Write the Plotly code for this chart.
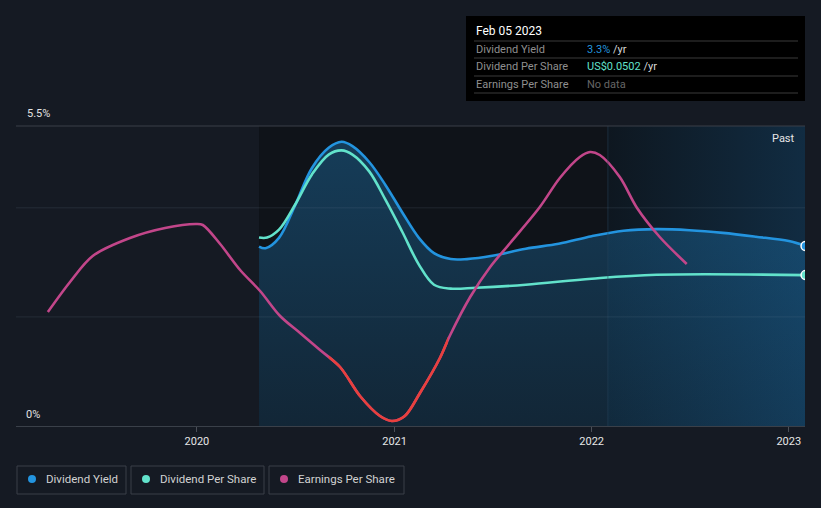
import plotly.graph_objects as go
import pandas as pd

# ---------------- data ----------------
yield_dates = ["2020-04-25", "2020-05-07", "2020-06-01", "2020-07-01", "2020-08-01", "2020-09-01",
               "2020-09-25", "2020-10-15", "2020-11-15", "2020-12-15", "2021-01-15", "2021-02-15",
               "2021-03-15", "2021-04-15", "2021-05-15", "2021-07-01", "2021-09-01", "2021-11-01",
               "2022-01-01", "2022-03-01", "2022-05-01", "2022-07-01", "2022-09-01", "2022-11-01",
               "2023-01-01", "2023-02-01"]
dividend_yield = [3.29, 3.26, 3.45, 4.05, 4.73, 5.10, 5.21, 5.13, 4.84, 4.42, 3.92, 3.45,
                  3.17, 3.06, 3.06, 3.12, 3.25, 3.34, 3.48, 3.58, 3.61, 3.59, 3.54, 3.47,
                  3.39, 3.30]

dps_dates = ["2020-04-25", "2020-05-10", "2020-06-01", "2020-07-01", "2020-08-01", "2020-09-01",
             "2020-09-25", "2020-10-15", "2020-11-15", "2020-12-15", "2021-01-15", "2021-02-15",
             "2021-03-15", "2021-04-15", "2021-06-01", "2021-09-01", "2022-01-01", "2022-05-01",
             "2023-02-01"]
dividend_per_share = [0.0627, 0.0627, 0.0653, 0.0737, 0.0837, 0.0903, 0.0917, 0.0903, 0.0847,
                      0.0753, 0.0647, 0.0537, 0.0470, 0.0457, 0.0460, 0.0470, 0.0490, 0.0503,
                      0.0502]

eps_dates = ["2019-03-31", "2019-05-11", "2019-06-22", "2019-08-30", "2019-11-03", "2019-12-31",
             "2020-01-12", "2020-02-13", "2020-03-21", "2020-04-27", "2020-06-03", "2020-07-10",
             "2020-08-16", "2020-09-22", "2020-10-29", "2020-12-05", "2020-12-27", "2021-01-20",
             "2021-02-17", "2021-03-26", "2021-04-14", "2021-05-21", "2021-06-27", "2021-08-03",
             "2021-09-27", "2021-11-03", "2021-12-10", "2021-12-29", "2022-01-16", "2022-02-22",
             "2022-03-26", "2022-05-07", "2022-06-26"]
earnings_per_share = [0.228, 0.288, 0.340, 0.376, 0.396, 0.404, 0.402, 0.364, 0.312, 0.270,
                      0.220, 0.186, 0.152, 0.118, 0.060, 0.020, 0.010, 0.020, 0.066, 0.136,
                      0.182, 0.258, 0.318, 0.366, 0.438, 0.496, 0.538, 0.548, 0.542, 0.498,
                      0.436, 0.378, 0.324]

x_ticks = ["2020-01-01", "2021-01-01", "2022-01-01", "2023-01-01"]
x_tick_labels = ["2020", "2021", "2022", "2023"]
x_range = ["2019-01-31", "2023-01-31"]
data_start = "2020-04-25"
past_start = "2022-01-31"
red_range = ["2020-09-01", "2021-04-10"]

# ---------------- styling ----------------
BG = "#151a23"
BLUE = "#2394df"
TEAL = "#62e2cb"
PINK = "#c2468a"
RED = "#e8403d"
FONT = "Roboto"

W, H = 821, 508
L, R, T, B = 16, 16, 126, 82
PW, PH = W - L - R, H - T - B


def px(x):
    return (x - L) / PW


def py(y):
    return (H - B - y) / PH


fig = go.Figure()

# past-year band with horizontal gradient
fig.add_trace(go.Scatter(
    x=[past_start, x_range[1], x_range[1], past_start, past_start], y=[0, 0, 5.5, 5.5, 0],
    mode="none", fill="toself",
    fillgradient=dict(type="horizontal", colorscale=[[0, "#0e1720"], [1, "#112c42"]]),
    showlegend=False, hoverinfo="skip"))

# Dividend yield with gradient area
fig.add_trace(go.Scatter(
    x=yield_dates, y=dividend_yield, mode="lines", line=dict(color=BLUE, width=2.6, shape="spline"),
    fill="tozeroy",
    fillgradient=dict(type="vertical", colorscale=[[0, "rgba(35,148,223,0.15)"], [1, "rgba(35,148,223,0.33)"]],
                      start=0, stop=5.5),
    name="Dividend Yield", showlegend=False, hoverinfo="skip"))

# Dividend per share
fig.add_trace(go.Scatter(
    x=dps_dates, y=dividend_per_share, mode="lines", yaxis="y2",
    line=dict(color=TEAL, width=2.6, shape="spline"), showlegend=False, hoverinfo="skip"))

# Earnings per share (pink) and red part (clipped subplot)
fig.add_trace(go.Scatter(
    x=eps_dates, y=earnings_per_share, mode="lines", yaxis="y3",
    line=dict(color=PINK, width=2.6, shape="spline", smoothing=0.9), showlegend=False, hoverinfo="skip"))
fig.add_trace(go.Scatter(
    x=eps_dates, y=earnings_per_share, mode="lines", xaxis="x2", yaxis="y4",
    line=dict(color=RED, width=2.6, shape="spline", smoothing=0.9), showlegend=False, hoverinfo="skip"))

# end markers
fig.add_trace(go.Scatter(
    x=[yield_dates[-1]], y=[dividend_yield[-1]], mode="markers",
    marker=dict(color=BLUE, size=9, line=dict(color="white", width=1.5)),
    showlegend=False, hoverinfo="skip"))
fig.add_trace(go.Scatter(
    x=[dps_dates[-1]], y=[dividend_per_share[-1]], mode="markers", yaxis="y2",
    marker=dict(color=TEAL, size=9, line=dict(color="white", width=1.5)),
    showlegend=False, hoverinfo="skip"))

t0 = pd.Timestamp(x_range[0])
t1 = pd.Timestamp(x_range[1])
span = (t1 - t0).total_seconds()
f1 = (pd.Timestamp(red_range[0]) - t0).total_seconds() / span
f2 = (pd.Timestamp(red_range[1]) - t0).total_seconds() / span

shapes = [
    # darker middle band
    dict(type="rect", xref="x", yref="paper", x0=data_start, x1=past_start, y0=0, y1=1,
         fillcolor="#0f1319", line=dict(width=0), layer="below"),
    dict(type="line", xref="x", yref="paper", x0=past_start, x1=past_start, y0=0, y1=1,
         line=dict(color="rgba(40,70,90,0.5)", width=1)),
    # grid lines drawn over the bands
    dict(type="line", xref="paper", yref="y", x0=0, x1=1, y0=2, y1=2,
         line=dict(color="rgba(120,140,160,0.16)", width=1)),
    dict(type="line", xref="paper", yref="y", x0=0, x1=1, y0=4, y1=4,
         line=dict(color="rgba(120,140,160,0.16)", width=1)),
    # top line
    dict(type="line", xref="paper", yref="paper", x0=0, x1=1, y0=1, y1=1,
         line=dict(color="#3a3f48", width=1)),
]

annotations = [
    dict(text="5.5%", x=px(25), y=py(114), xref="paper", yref="paper", xanchor="left", yanchor="middle",
         showarrow=False, font=dict(family=FONT, size=11, color="#e2e2e2")),
    dict(text="0%", x=px(24), y=py(414), xref="paper", yref="paper", xanchor="left", yanchor="middle",
         showarrow=False, font=dict(family=FONT, size=11, color="#e2e2e2")),
    dict(text="Past", x=px(797), y=py(138), xref="paper", yref="paper", xanchor="right", yanchor="middle",
         showarrow=False, font=dict(family=FONT, size=11, color="#e6e6e6")),
]

# Tooltip box
shapes.append(dict(type="rect", xref="paper", yref="paper", x0=px(466), x1=px(805), y0=py(101), y1=py(16),
                   fillcolor="#000000", line=dict(width=0)))
for yy in [41, 58, 76, 93]:
    shapes.append(dict(type="line", xref="paper", yref="paper", x0=px(474), x1=px(798), y0=py(yy), y1=py(yy),
                       line=dict(color="#3a3a3a", width=1)))
annotations.append(dict(text="Feb 05 2023", x=px(474), y=py(31), xref="paper", yref="paper",
                        xanchor="left", yanchor="middle", showarrow=False,
                        font=dict(family=FONT, size=12, color="#ffffff")))
rows = [
    ("Dividend Yield", f"<span style='color:{BLUE}'>{dividend_yield[-1]:.1f}%</span> /yr", 49),
    ("Dividend Per Share", f"<span style='color:{TEAL}'>US${dividend_per_share[-1]:.4f}</span> /yr", 66),
    ("Earnings Per Share", "<span style='color:#666666'>No data</span>", 84),
]
for lab, val, yy in rows:
    annotations.append(dict(text=lab, x=px(474), y=py(yy), xref="paper", yref="paper", xanchor="left",
                            yanchor="middle", showarrow=False, font=dict(family=FONT, size=11, color="#8f8f8f")))
    annotations.append(dict(text=val, x=px(585), y=py(yy), xref="paper", yref="paper", xanchor="left",
                            yanchor="middle", showarrow=False, font=dict(family=FONT, size=11, color="#d8d8d8")))

# Legend
legend_items = [("Dividend Yield", BLUE, 17, 126), ("Dividend Per Share", TEAL, 131, 264),
                ("Earnings Per Share", PINK, 269, 404)]
for name, col, x0, x1 in legend_items:
    shapes.append(dict(type="rect", xref="paper", yref="paper", x0=px(x0), x1=px(x1), y0=py(494), y1=py(466),
                       fillcolor="rgba(0,0,0,0)", line=dict(color="#3a3f48", width=1)))
    shapes.append(dict(type="circle", xref="paper", yref="paper", x0=px(x0 + 11), x1=px(x0 + 19),
                       y0=py(483), y1=py(475), fillcolor=col, line=dict(width=0)))
    annotations.append(dict(text=name, x=px(x0 + 27), y=py(479.5), xref="paper", yref="paper",
                            xanchor="left", yanchor="middle", showarrow=False,
                            font=dict(family=FONT, size=11.5, color="#d2d2d2")))

fig.update_layout(
    width=W, height=H, margin=dict(l=L, r=R, t=T, b=B),
    paper_bgcolor=BG, plot_bgcolor="rgba(0,0,0,0)",
    showlegend=False, shapes=shapes, annotations=annotations,
    font=dict(family=FONT, color="#e2e2e2"),
    xaxis=dict(type="date", range=x_range, tickvals=x_ticks, ticktext=x_tick_labels,
               showgrid=False, zeroline=False, showline=True, linecolor="#3a4049", linewidth=1,
               ticks="outside", ticklen=5, tickcolor="#4a4f58",
               tickfont=dict(family=FONT, size=11, color="#e6e6e6")),
    yaxis=dict(range=[0, 5.5], showgrid=False, showticklabels=False,
               zeroline=False, showline=False, fixedrange=True),
    yaxis2=dict(range=[0, 0.0998], overlaying="y", visible=False),
    yaxis3=dict(range=[0, 0.6], overlaying="y", visible=False),
    xaxis2=dict(type="date", domain=[f1, f2], range=red_range, anchor="y4", visible=False),
    yaxis4=dict(range=[0, 0.6], anchor="x2", domain=[0, 1], visible=False),
)

fig.write_html("out.html")
